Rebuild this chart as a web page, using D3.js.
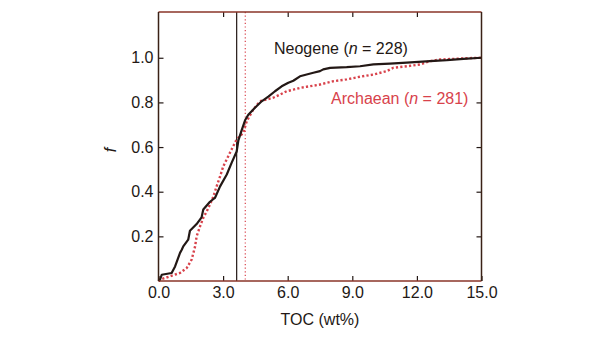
<!DOCTYPE html>
<html>
<head>
<meta charset="utf-8">
<script src="https://cdn.jsdelivr.net/npm/d3@7"></script>
<style>
  body { margin: 0; background: #fff; }
  text { font-family: "Liberation Sans", Arial, Helvetica, sans-serif; }
</style>
</head>
<body>
<div class="chart"></div>
<script>
// chart data (cumulative fraction vs TOC)
var neogeneToc = [0, 0.07, 0.15, 0.61, 0.77, 1.0, 1.08, 1.15, 1.38, 1.46, 1.77, 2.0, 2.08, 2.39, 2.62, 2.86, 3.17, 3.40, 3.63, 3.71, 3.86, 4.02, 4.17, 4.48, 4.79, 5.10, 5.41, 5.72, 6.03, 6.26, 6.57, 6.88, 7.19, 7.50, 7.65, 7.97, 8.74, 9.36, 9.98, 10.75, 11.53, 12.61, 13.39, 14.16, 15.0];
var neogeneF = [0, 0.006, 0.028, 0.036, 0.065, 0.126, 0.14, 0.155, 0.185, 0.225, 0.255, 0.285, 0.32, 0.355, 0.372, 0.424, 0.477, 0.53, 0.58, 0.63, 0.675, 0.72, 0.745, 0.776, 0.805, 0.826, 0.85, 0.872, 0.888, 0.897, 0.917, 0.925, 0.933, 0.94, 0.948, 0.955, 0.958, 0.962, 0.97, 0.974, 0.978, 0.985, 0.989, 0.995, 1.0];

var archaeanToc = [0, 0.07, 0.53, 1.0, 1.31, 1.54, 1.70, 1.77, 1.93, 2.08, 2.24, 2.39, 2.55, 2.70, 2.86, 3.01, 3.24, 3.47, 3.63, 3.94, 4.10, 4.40, 4.71, 5.03, 5.33, 5.64, 5.95, 6.26, 6.57, 6.88, 7.50, 8.12, 8.74, 9.36, 9.98, 10.6, 10.9, 11.53, 12.15, 12.61, 13.07, 13.69, 14.31, 15.0];
var archaeanF = [0, 0.006, 0.021, 0.036, 0.058, 0.096, 0.155, 0.2, 0.245, 0.283, 0.312, 0.342, 0.379, 0.424, 0.469, 0.514, 0.559, 0.604, 0.634, 0.664, 0.716, 0.768, 0.805, 0.813, 0.821, 0.835, 0.85, 0.857, 0.865, 0.87, 0.88, 0.895, 0.903, 0.915, 0.925, 0.94, 0.955, 0.962, 0.97, 0.985, 0.992, 0.995, 0.998, 1.0];

// mean TOC lines
var neogeneMean = 3.63;
var archaeanMean = 4.03;

var xTicks = [0, 3, 6, 9, 12, 15];
var yTicks = [0.2, 0.4, 0.6, 0.8, 1.0];

var svgWidth = 600;
var svgHeight = 343;
var margin = { top: 12, right: 118.5, bottom: 62, left: 158.5 };
var chartWidth = svgWidth - margin.left - margin.right;
var chartHeight = svgHeight - margin.top - margin.bottom;

var black = "#231815";
var red = "#d8424b";

var svg = d3.select(".chart")
  .append("svg")
  .attr("width", svgWidth)
  .attr("height", svgHeight);

var chartGroup = svg.append("g")
  .attr("transform", `translate(${margin.left}, ${margin.top})`);

var xScale = d3.scaleLinear().domain([0, 15]).range([0, chartWidth]);
var yScale = d3.scaleLinear().domain([0, 1.205]).range([chartHeight, 0]);

// axes with inward ticks
var xBottom = chartGroup.append("g")
  .attr("transform", `translate(0, ${chartHeight})`)
  .call(d3.axisBottom(xScale).tickValues(xTicks).tickFormat(d3.format(".1f"))
    .tickSize(-5).tickSizeOuter(0).tickPadding(6));

var xTop = chartGroup.append("g")
  .call(d3.axisTop(xScale).tickValues(xTicks.slice(1, -1)).tickFormat("")
    .tickSize(-5).tickSizeOuter(0));

var yLeft = chartGroup.append("g")
  .call(d3.axisLeft(yScale).tickValues(yTicks).tickFormat(d3.format(".1f"))
    .tickSize(-5).tickSizeOuter(0).tickPadding(5));

var yRight = chartGroup.append("g")
  .attr("transform", `translate(${chartWidth}, 0)`)
  .call(d3.axisRight(yScale).tickValues(yTicks).tickFormat("")
    .tickSize(-5).tickSizeOuter(0));

[xBottom, xTop, yLeft, yRight].forEach(function (g) {
  g.select(".domain").remove();
  g.selectAll(".tick line").attr("stroke", black).attr("stroke-width", 1.2);
  g.selectAll(".tick text")
    .attr("fill", black)
    .style("font-size", "16px")
    .style("font-family", "'Liberation Sans', Arial, Helvetica, sans-serif");
});

// mean lines
chartGroup.append("line")
  .attr("x1", xScale(neogeneMean)).attr("x2", xScale(neogeneMean))
  .attr("y1", 0).attr("y2", chartHeight)
  .attr("stroke", black).attr("stroke-width", 1.2);

chartGroup.append("line")
  .attr("x1", xScale(archaeanMean)).attr("x2", xScale(archaeanMean))
  .attr("y1", 0).attr("y2", chartHeight)
  .attr("stroke", red).attr("stroke-width", 1.2)
  .attr("stroke-dasharray", "1.2,2.4");

// curves
var line = d3.line()
  .x(d => xScale(d[0]))
  .y(d => yScale(d[1]));

var neogeneData = neogeneToc.map((t, i) => [t, neogeneF[i]]);
var archaeanData = archaeanToc.map((t, i) => [t, archaeanF[i]]);

chartGroup.append("path")
  .datum(archaeanData)
  .attr("d", line)
  .attr("fill", "none")
  .attr("stroke", red)
  .attr("stroke-width", 2.4)
  .attr("stroke-dasharray", "2.2,2.2");

chartGroup.append("path")
  .datum(neogeneData)
  .attr("d", line)
  .attr("fill", "none")
  .attr("stroke", black)
  .attr("stroke-width", 2.2)
  .attr("stroke-linejoin", "round");

// frame
chartGroup.append("line")
  .attr("x1", 0).attr("x2", chartWidth).attr("y1", 0).attr("y2", 0)
  .attr("stroke", "#8a3428").attr("stroke-width", 1.5);
chartGroup.append("line")
  .attr("x1", 0).attr("x2", chartWidth).attr("y1", chartHeight).attr("y2", chartHeight)
  .attr("stroke", "#8a3428").attr("stroke-width", 1.5);
chartGroup.append("line")
  .attr("x1", 0).attr("x2", 0).attr("y1", 0).attr("y2", chartHeight)
  .attr("stroke", "#3a2216").attr("stroke-width", 1.5);
chartGroup.append("line")
  .attr("x1", chartWidth).attr("x2", chartWidth).attr("y1", 0).attr("y2", chartHeight)
  .attr("stroke", "#3a2216").attr("stroke-width", 1.5);

// series labels
var neoLabel = svg.append("text")
  .attr("x", 274).attr("y", 54)
  .attr("fill", black)
  .style("font-size", "16px");
neoLabel.append("tspan").text("Neogene (");
neoLabel.append("tspan").style("font-style", "italic").text("n");
neoLabel.append("tspan").text(" = 228)");

var archLabel = svg.append("text")
  .attr("x", 331).attr("y", 104)
  .attr("fill", red)
  .style("font-size", "16px");
archLabel.append("tspan").text("Archaean (");
archLabel.append("tspan").style("font-style", "italic").text("n");
archLabel.append("tspan").text(" = 281)");

// axis titles
svg.append("text")
  .attr("x", margin.left + chartWidth / 2)
  .attr("y", 325)
  .attr("text-anchor", "middle")
  .attr("fill", black)
  .style("font-size", "16px")
  .text("TOC (wt%)");

svg.append("text")
  .attr("transform", "translate(116, 150) rotate(-90)")
  .attr("text-anchor", "middle")
  .attr("fill", black)
  .style("font-size", "16px")
  .style("font-style", "italic")
  .text("f");
</script>
</body>
</html>
